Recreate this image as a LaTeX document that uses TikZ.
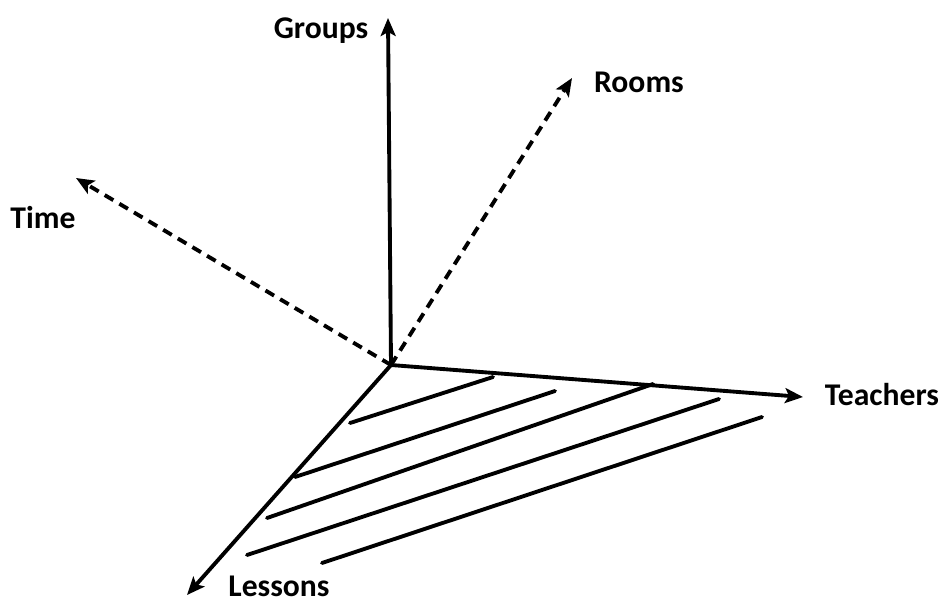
\documentclass[tikz,border=0pt]{standalone}
\usepackage{fontspec}
\setmainfont{Carlito}
\usetikzlibrary{arrows.meta}

\begin{document}
\begin{tikzpicture}[x=0.02cm, y=-0.02cm,
    axis/.style={line width=2.2pt, -{Stealth[length=0.36cm, width=0.3cm, inset=0.08cm]}},
    hidden/.style={axis, dash pattern=on 0.2cm off 0.14cm},
    hatch/.style={line width=2.2pt, line cap=round},
    lbl/.style={font=\fontsize{18}{21}\selectfont\bfseries, anchor=base, inner sep=0pt}]
        \useasboundingbox (0,0) rectangle (942,603);

        \coordinate (o) at (391,365);
        \coordinate (gtip) at (388,18);
        \coordinate (rtip) at (572,78);
        \coordinate (ttip) at (76,178);
        \coordinate (etip) at (803,397);
        \coordinate (ltip) at (187,595);

        \node (groups)   at (321,38)  [lbl] {Groups};
        \node (rooms)    at (639,92)  [lbl] {Rooms};
        \node (time)     at (43,228)  [lbl] {Time};
        \node (teachers) at (882,405) [lbl] {Teachers};
        \node (lessons)  at (279,596) [lbl] {Lessons};

        \draw[axis]   (o) -- (gtip);
        \draw[hidden] (o) -- (rtip);
        \draw[hidden] (o) -- (ttip);
        \draw[axis]   (o) -- (etip);
        \draw[axis]   (o) -- (ltip);

        % hatching of the lessons/teachers plane
        \foreach \xa/\ya/\xb/\yb in {350/423/493/377, 295/477/555/391, 267/518/653/384,
                                     247/555/719/399, 322/563/762/417}
            \draw[hatch] (\xa,\ya) -- (\xb,\yb);
    \end{tikzpicture}
\end{document}
